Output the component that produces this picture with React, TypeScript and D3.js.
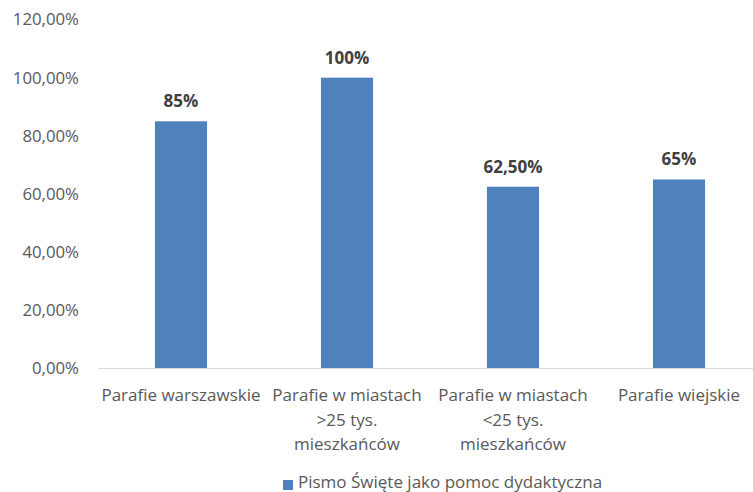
import React from "react";
import * as d3 from "d3";

const categories: string[][] = [
  ["Parafie warszawskie"],
  ["Parafie w miastach", ">25 tys.", "mieszkańców"],
  ["Parafie w miastach", "<25 tys.", "mieszkańców"],
  ["Parafie wiejskie"],
];
const values: number[] = [0.85, 1.0, 0.625, 0.65];
const valueLabels: string[] = ["85%", "100%", "62,50%", "65%"];
const yTicks: number[] = [0, 0.2, 0.4, 0.6, 0.8, 1.0, 1.2];
const seriesName = "Pismo Święte jako pomoc dydaktyczna";

const W = 753;
const H = 492;
const FONT = "'Open Sans', sans-serif";

export default function App() {
  const x = d3
    .scaleBand<number>()
    .domain(d3.range(categories.length))
    .range([98, 762])
    .paddingInner(0.686)
    .paddingOuter(0.343);
  const y = d3.scaleLinear().domain([0, 1.2]).range([368.5, 19.5]);
  const fmt = (v: number) => (v * 100).toFixed(2).replace(".", ",") + "%";

  return (
    <svg
      width={W}
      height={H}
      style={{ position: "absolute", left: 0, top: 0, background: "#fff" }}
      fontFamily={FONT}
    >
      {yTicks.map((t) => (
        <text
          key={t}
          x={79}
          y={y(t)}
          dy="0.35em"
          textAnchor="end"
          fontSize={16.8}
          fill="#595959"
        >
          {fmt(t)}
        </text>
      ))}
      {values.map((v, i) => (
        <rect
          key={i}
          x={x(i)!}
          y={y(v)}
          width={x.bandwidth()}
          height={y(0) - y(v)}
          fill="#4f81bd"
        />
      ))}
      <line x1={98} x2={W} y1={368.5} y2={368.5} stroke="#d9d9d9" strokeWidth={1} />
      {values.map((v, i) => (
        <text
          key={"l" + i}
          x={x(i)! + x.bandwidth() / 2}
          y={y(v) - 14}
          textAnchor="middle"
          fontSize={17}
          fontWeight="bold"
          fill="#404040"
        >
          {valueLabels[i]}
        </text>
      ))}
      {categories.map((lines, i) => (
        <text
          key={"c" + i}
          textAnchor="middle"
          fontSize={17}
          fill="#595959"
        >
          {lines.map((ln, j) => (
            <tspan key={j} x={x(i)! + x.bandwidth() / 2} y={401 + j * 24.5}>
              {ln}
            </tspan>
          ))}
        </text>
      ))}
      <rect x={283} y={480} width={10} height={10} fill="#4f81bd" />
      <text x={298} y={487.5} fontSize={17} fill="#595959">
        {seriesName}
      </text>
    </svg>
  );
}
